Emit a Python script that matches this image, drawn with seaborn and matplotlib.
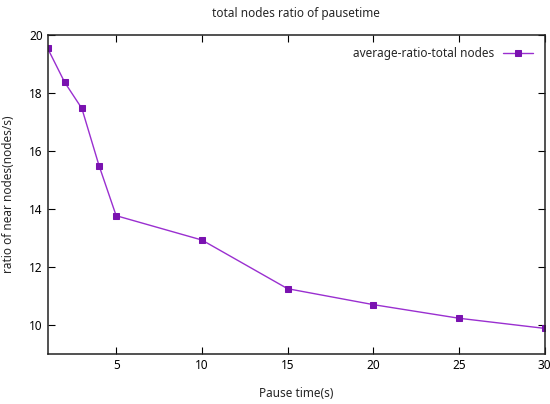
import pandas as pd
import seaborn as sns
import matplotlib.pyplot as plt

# pause time (s) and average ratio of total nodes
pause_time = [1, 2, 3, 4, 5, 10, 15, 20, 25, 30]
avg_ratio = [19.55, 18.37, 17.47, 15.50, 13.77, 12.93, 11.25, 10.70, 10.23, 9.88]
series_name = "average-ratio-total nodes"

sns.set_style("ticks")
plt.rcParams['font.family'] = ['Noto Sans', 'DejaVu Sans']
plt.rcParams['font.size'] = 8.5

data = pd.DataFrame({"Pause time(s)": pause_time, "ratio": avg_ratio})

fig = plt.figure(figsize=(5.5, 4.04), dpi=100)
ax = fig.add_axes([0.0865, 0.124, 0.904, 0.789])

sns.lineplot(data=data, x="Pause time(s)", y="ratio", ax=ax, color="#9a2fd0",
             marker="s", markersize=5, markerfacecolor="#7a12b0",
             markeredgecolor="#7a12b0", linewidth=1.0, label=series_name)

ax.set_xlim(1, 30)
ax.set_ylim(9, 20)
ax.set_xticks([5, 10, 15, 20, 25, 30])
ax.set_yticks([10, 12, 14, 16, 18, 20])
ax.tick_params(direction="in", top=True, right=True, length=5, width=0.8,
               labelsize=8.5, colors="black")
for s in ax.spines.values():
    s.set_linewidth(1.1)
    s.set_color("#222222")

ax.set_title("total nodes ratio of pausetime", fontsize=8.5, pad=13)
ax.set_xlabel("Pause time(s)", fontsize=8.5, labelpad=11)
ax.set_ylabel("ratio of near nodes(nodes/s)", fontsize=8.5, labelpad=10)
ax.legend(loc="upper right", frameon=False, markerfirst=False, fontsize=8.5,
          handlelength=2.5, borderaxespad=0.6)

plt.savefig("out.png", dpi=100)
